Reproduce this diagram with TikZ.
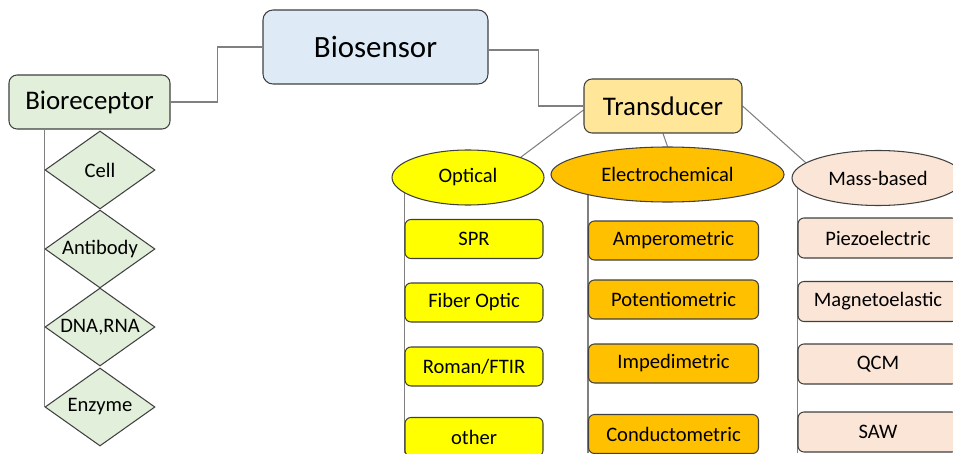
\documentclass[tikz,border=0pt]{standalone}
\usepackage{tikz}
\usepackage{xcolor}
\usepackage{fontspec}
\setmainfont{Carlito}
\usetikzlibrary{shapes.geometric, backgrounds}

\definecolor{sensorblue}{HTML}{DEEBF7}
\definecolor{receptorgreen}{HTML}{E2EFDA}
\definecolor{transgold}{HTML}{FFE699}
\definecolor{optyellow}{HTML}{FFFF00}
\definecolor{echemorange}{HTML}{FFC000}
\definecolor{masspeach}{HTML}{FBE5D6}
\definecolor{wiregray}{HTML}{808080}

\tikzset{
	rbox/.style={shape=rectangle, draw=black!75, line width=0.6pt, inner sep=0pt},
	bigfont/.style={font=\fontsize{17.6}{20}\selectfont},
	midfont/.style={font=\fontsize{15.3}{18}\selectfont},
	smallfont/.style={font=\fontsize{11.7}{14}\selectfont},
	leafbox/.style={rbox, smallfont, rounded corners=0.12cm, minimum height=0.78cm},
	classoval/.style={shape=ellipse, draw=black!75, line width=0.6pt, inner sep=0pt, smallfont, minimum height=1.1cm},
	probe/.style={shape=diamond, shape aspect=1.41, draw=black!75, line width=0.6pt, inner sep=0pt, smallfont, fill=receptorgreen, minimum width=2.2cm, minimum height=1.56cm},
	wire/.style={draw=wiregray, line width=0.6pt}
}

\begin{document}
\begin{tikzpicture}
	% Paths, nodes, and wires:
	\useasboundingbox (0, 0) rectangle (19.06, 9.06);
	\coordinate (N0) at (0, 0);
	\node[rbox, bigfont, rounded corners=0.2cm, fill=sensorblue, minimum width=4.5cm, minimum height=1.48cm](N1) at (7.51, 8.12){Biosensor};
	\node[rbox, midfont, rounded corners=0.16cm, fill=receptorgreen, minimum width=3.22cm, minimum height=1.08cm](N2) at (1.79, 7.02){Bioreceptor};
	\node[rbox, midfont, rounded corners=0.16cm, fill=transgold, minimum width=3.16cm, minimum height=1.08cm](N3) at (13.26, 6.94){Transducer};
	\node[classoval, fill=optyellow, minimum width=3.04cm](N4) at (9.36, 5.51){Optical};
	\node[classoval, fill=echemorange, minimum width=4.66cm](N5) at (13.35, 5.57){Electrochemical};
	\node[classoval, fill=masspeach, minimum width=3.44cm](N6) at (17.56, 5.5){Mass-based};
	\node[leafbox, fill=optyellow, minimum width=2.76cm](N7) at (9.48, 4.28){SPR};
	\node[leafbox, fill=optyellow, minimum width=2.76cm](N8) at (9.48, 3.01){Fiber Optic};
	\node[leafbox, fill=optyellow, minimum width=2.76cm](N9) at (9.48, 1.73){Roman/FTIR};
	\node[leafbox, fill=optyellow, minimum width=2.76cm](N10) at (9.48, 0.32){other};
	\node[leafbox, fill=echemorange, minimum width=3.4cm](N11) at (13.47, 4.25){Amperometric};
	\node[leafbox, fill=echemorange, minimum width=3.4cm](N12) at (13.47, 3.07){Potentiometric};
	\node[leafbox, fill=echemorange, minimum width=3.4cm](N13) at (13.47, 1.79){Impedimetric};
	\node[leafbox, fill=echemorange, minimum width=3.4cm](N14) at (13.47, 0.38){Conductometric};
	\node[leafbox, fill=masspeach, minimum width=3.2cm, minimum height=0.8cm](N15) at (17.56, 4.3){Piezoelectric};
	\node[leafbox, fill=masspeach, minimum width=3.2cm, minimum height=0.8cm](N16) at (17.56, 3.03){Magnetoelastic};
	\node[leafbox, fill=masspeach, minimum width=3.2cm, minimum height=0.8cm](N17) at (17.56, 1.78){QCM};
	\node[leafbox, fill=masspeach, minimum width=3.2cm, minimum height=0.8cm](N18) at (17.56, 0.42){SAW};
	\node[probe](N19) at (2.0, 5.66){Cell};
	\node[probe](N20) at (2.0, 4.08){Antibody};
	\node[probe](N21) at (2.0, 2.52){DNA,RNA};
	\node[probe](N22) at (2.0, 0.92){Enzyme};
	\begin{scope}[on background layer]
		\draw[wire] (N2.east) -- ++(0.94, 0) |- (N1.west);
		\draw[wire] (N1.east) ++(0, -0.06) -- ++(1.0, 0) |- (N3.west);
		\draw[wire] ([yshift=-0.08cm]N3.west) -- (N4.21);
		\draw[wire] (N3.south) -- (N5.north);
		\draw[wire] (N3.east) -- (N6.168);
		\draw[wire] (N2.south -| N22.west) -- (N22.west);
		\draw[wire] (N4.center -| N7.west) -- (N0 -| N7.west);
		\draw[wire] (N5.center -| N11.west) -- (N0 -| N11.west);
		\draw[wire] (N6.center -| N15.west) -- (N0 -| N15.west);
	\end{scope}
\end{tikzpicture}
\end{document}
